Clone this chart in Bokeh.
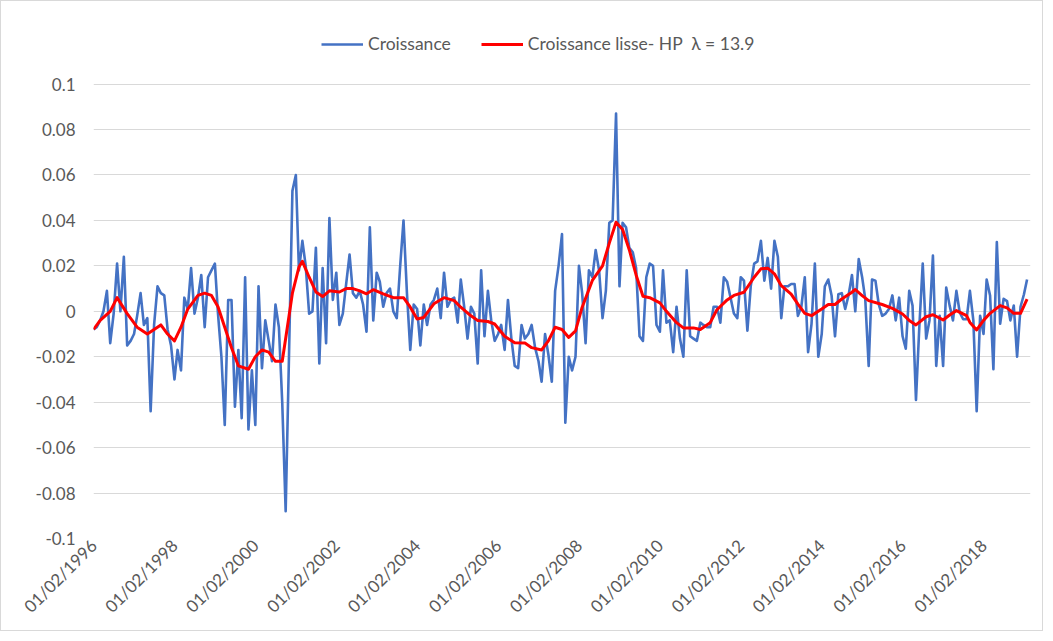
import pandas as pd
from math import pi
from bokeh.plotting import figure
from bokeh.models import (Range1d, FixedTicker, NumeralTickFormatter,
                          DatetimeTickFormatter, Legend, LegendItem)
from bokeh.embed import file_html
from bokeh.resources import INLINE

# ---------------- data (monthly, starting 01/02/1996) ----------------
start_date = "1996-02-01"

croissance = [
    -0.008, -0.007, -0.004, 0.000, 0.009, -0.014, -0.001, 0.021, 0.000, 0.024,
    -0.015, -0.013, -0.010, -0.002, 0.008, -0.006, -0.003, -0.044, -0.006, 0.011,
    0.008, 0.007, -0.008, -0.015, -0.030, -0.017, -0.026, 0.006, 0.001, 0.019,
    -0.001, 0.006, 0.016, -0.007, 0.015, 0.018, 0.021, -0.001, -0.020, -0.050,
    0.005, 0.005, -0.042, -0.017, -0.047, 0.015, -0.052, -0.026, -0.050, 0.011,
    -0.025, -0.004, -0.013, -0.022, 0.003, -0.007, -0.040, -0.088, -0.020, 0.053,
    0.060, 0.018, 0.031, 0.020, -0.001, 0.000, 0.028, -0.023, 0.019, -0.014,
    0.041, 0.005, 0.017, -0.006, -0.001, 0.012, 0.025, 0.008, 0.006, 0.009,
    0.003, -0.009, 0.037, -0.004, 0.017, 0.013, 0.002, 0.008, 0.010, 0.000,
    -0.003, 0.020, 0.040, 0.008, -0.017, 0.003, 0.001, -0.015, 0.003, -0.006,
    0.003, 0.005, 0.010, -0.003, 0.017, 0.002, 0.005, 0.006, -0.005, 0.014,
    0.002, -0.012, 0.002, -0.001, -0.023, 0.018, -0.011, 0.009, -0.004, -0.013,
    -0.010, -0.006, -0.017, 0.005, -0.012, -0.024, -0.025, -0.006, -0.012, -0.010,
    -0.006, -0.016, -0.022, -0.031, -0.010, -0.019, -0.031, 0.009, 0.020, 0.034,
    -0.049, -0.020, -0.026, -0.020, 0.020, 0.008, -0.014, 0.018, 0.015, 0.027,
    0.018, -0.003, 0.009, 0.039, 0.040, 0.087, 0.011, 0.039, 0.037, 0.028,
    0.026, 0.019, -0.011, -0.013, 0.015, 0.021, 0.020, -0.006, -0.009, 0.018,
    -0.005, -0.004, -0.018, 0.002, -0.012, -0.020, 0.018, -0.011, -0.012, -0.013,
    -0.005, -0.006, -0.007, -0.007, 0.002, 0.002, -0.005, 0.015, 0.013, 0.006,
    -0.001, -0.003, 0.015, 0.0135, -0.0085, 0.011, 0.021, 0.022, 0.031, 0.0135,
    0.0235, 0.010, 0.031, 0.024, -0.003, 0.011, 0.011, 0.012, 0.012, -0.002,
    0.002, 0.015, -0.018, -0.0055, 0.021, -0.020, -0.010, 0.011, 0.014, 0.007,
    -0.011, 0.0075, 0.008, 0.001, 0.007, 0.016, 0.000, 0.023, 0.015, 0.0055,
    -0.024, 0.014, 0.0135, 0.003, -0.002, -0.001, 0.001, 0.007, -0.004, 0.006,
    -0.011, -0.0165, 0.009, 0.0025, -0.039, -0.007, 0.021, -0.012, -0.004, 0.0245,
    -0.024, -0.002, -0.024, 0.0105, 0.0025, -0.004, 0.009, -0.0005, -0.0035, -0.0035,
    0.009, -0.004, -0.044, -0.002, -0.010, 0.014, 0.007, -0.0255, 0.0305, -0.0055,
    0.0055, 0.0045, -0.004, 0.0025, -0.020, 0.002, 0.0075, 0.014,
]

# HP-smoothed series (month offset from start, value)
hp_month = [
    0, 2, 5, 7, 10, 13, 16, 20, 22, 24, 26, 28, 31, 33, 35, 37, 39, 41, 43, 46,
    48, 50, 52, 54, 56, 57, 59, 61, 62, 64, 66, 68, 70, 73, 75, 77, 79, 81, 83, 86,
    89, 92, 94, 96, 98, 101, 104, 107, 109, 112, 114, 117, 119, 122, 125, 128, 130, 133, 135, 137,
    139, 141, 143, 145, 148, 151, 153, 155, 157, 159, 161, 163, 165, 168, 170, 173, 175, 178, 180, 183,
    185, 188, 190, 193, 196, 198, 200, 202, 204, 207, 209, 211, 213, 216, 218, 220, 222, 225, 226, 228,
    230, 234, 237, 240, 242, 244, 247, 249, 252, 254, 256, 259, 260, 262, 264, 266, 269, 271, 273, 275,
    277,
]
hp_value = [
    -0.008, -0.004, 0.000, 0.006, -0.001, -0.007, -0.010, -0.006, -0.010, -0.013,
    -0.007, 0.001, 0.007, 0.008, 0.007, 0.002, -0.007, -0.016, -0.024, -0.0255,
    -0.020, -0.017, -0.018, -0.022, -0.022, -0.012, 0.008, 0.0195, 0.022, 0.015,
    0.0085, 0.0065, 0.009, 0.0085, 0.010, 0.010, 0.009, 0.0077, 0.0095, 0.0077,
    0.006, 0.006, 0.0018, -0.0034, -0.0027, 0.0033, 0.006, 0.0047, 0.0018, -0.002,
    -0.004, -0.0045, -0.0056, -0.011, -0.0138, -0.014, -0.016, -0.017, -0.013, -0.007,
    -0.008, -0.0115, -0.0086, 0.0018, 0.0136, 0.020, 0.030, 0.0392, 0.036, 0.027,
    0.016, 0.0066, 0.006, 0.0037, 0.000, -0.005, -0.0073, -0.0073, -0.008, -0.005,
    0.0007, 0.005, 0.007, 0.0084, 0.015, 0.0187, 0.019, 0.0165, 0.0113, 0.0076,
    0.0032, -0.0009, -0.0019, 0.001, 0.003, 0.003, 0.0054, 0.0084, 0.0096, 0.0069,
    0.0047, 0.003, 0.0013, -0.0012, -0.004, -0.006, -0.0024, -0.0015, -0.0038, -0.0016,
    0.0003, -0.0019, -0.0049, -0.0082, -0.004, -0.0009, 0.0025, 0.0015, -0.0009, -0.0009,
    0.0054,
]

x_tick_labels = ["01/02/1996", "01/02/1998", "01/02/2000", "01/02/2002",
                 "01/02/2004", "01/02/2006", "01/02/2008", "01/02/2010",
                 "01/02/2012", "01/02/2014", "01/02/2016", "01/02/2018"]
y_ticks = [-0.1, -0.08, -0.06, -0.04, -0.02, 0, 0.02, 0.04, 0.06, 0.08, 0.1]

series_labels = ["Croissance", "Croissance lisse- HP  λ = 13.9"]

# ---------------- build ----------------
dates = pd.date_range(start_date, periods=len(croissance), freq="MS")
hp_dates = dates[hp_month]
tick_ms = [pd.Timestamp(pd.to_datetime(t, format="%d/%m/%Y")).value // 10**6
           for t in x_tick_labels]

FONT = "Lato"
GREY = "#595959"

# the y range extends a little above the top tick to leave room for the legend
p = figure(width=1043, height=631, x_axis_type="datetime",
           output_backend="svg", toolbar_location=None,
           x_range=Range1d(dates[0], dates[-1] + pd.DateOffset(months=1)),
           y_range=Range1d(-0.1, 0.128),
           min_border_left=92, min_border_right=14,
           min_border_top=19, min_border_bottom=94)
p.styles = {"border": "1px solid #d9d9d9"}
p.outline_line_color = None
p.background_fill_color = "white"
p.border_fill_color = "white"

p.xgrid.visible = False
p.ygrid.grid_line_color = "#d9d9d9"
p.ygrid.grid_line_width = 1

xa = p.xaxis[0]
xa.ticker = FixedTicker(ticks=tick_ms)
fmt = "%d/%m/%Y"
xa.formatter = DatetimeTickFormatter(
    microseconds=fmt, milliseconds=fmt, seconds=fmt, minsec=fmt, minutes=fmt,
    hourmin=fmt, hours=fmt, days=fmt, months=fmt, years=fmt)
xa.major_label_orientation = pi / 4
xa.axis_line_color = None
xa.major_tick_line_color = None
xa.minor_tick_line_color = None
xa.major_tick_out = 0
xa.major_label_standoff = 4
xa.major_label_text_font = FONT
xa.major_label_text_font_size = "17px"
xa.major_label_text_color = GREY

ya = p.yaxis[0]
ya.ticker = FixedTicker(ticks=y_ticks)
ya.formatter = NumeralTickFormatter(format="0.[00]")
ya.axis_line_color = None
ya.major_tick_line_color = None
ya.minor_tick_line_color = None
ya.major_tick_out = 0
ya.major_label_standoff = 18
ya.major_label_text_font = FONT
ya.major_label_text_font_size = "17px"
ya.major_label_text_color = GREY

r1 = p.line(dates, croissance, line_color="#4472C4", line_width=2.6,
            line_join="round")
r2 = p.line(hp_dates, hp_value, line_color="#FF0000", line_width=3,
            line_join="round")

legend = Legend(items=[LegendItem(label=series_labels[0], renderers=[r1]),
                       LegendItem(label=series_labels[1], renderers=[r2])],
                orientation="horizontal", location=(228, 484))
legend.border_line_color = None
legend.background_fill_alpha = 0
legend.glyph_width = 42
legend.glyph_height = 20
legend.label_standoff = 5
legend.spacing = 30
legend.padding = 4
legend.margin = 0
legend.label_text_font = FONT
legend.label_text_font_size = "17.5px"
legend.label_text_color = GREY
p.add_layout(legend)

open("out.html", "w").write(file_html(p, INLINE))
